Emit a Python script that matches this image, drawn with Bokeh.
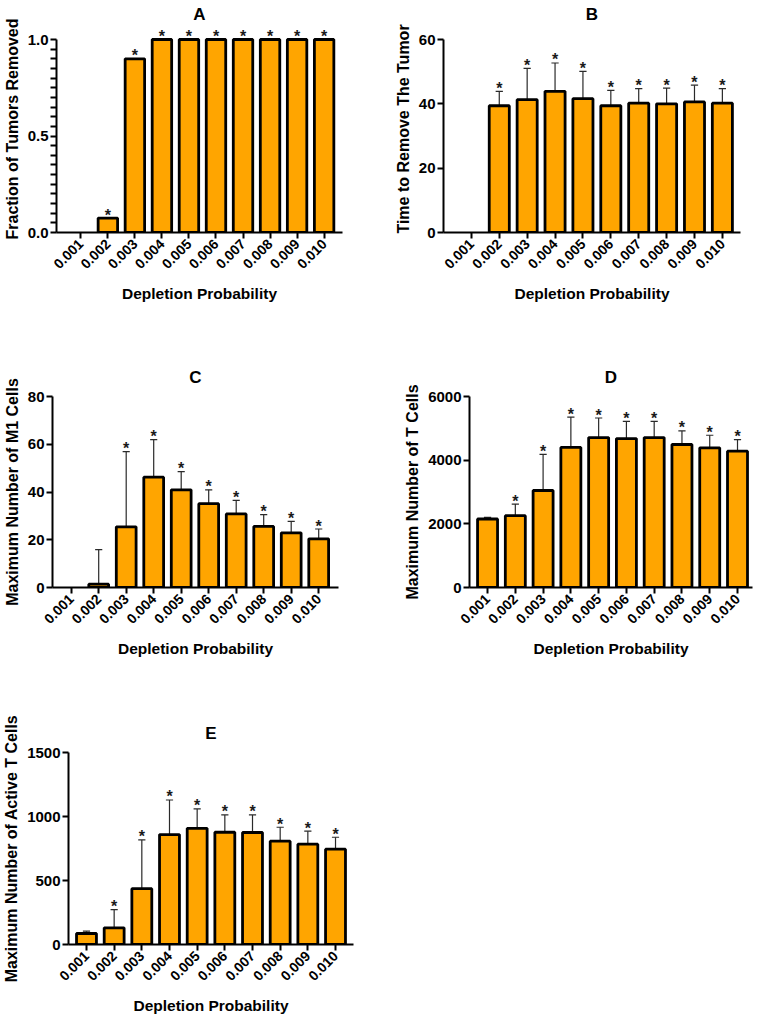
import math
from bokeh.plotting import figure
from bokeh.models import Range1d, FixedTicker
from bokeh.layouts import column, row
from bokeh.embed import file_html
from bokeh.resources import INLINE
from bokeh.core.properties import value

FONT = "Liberation Sans"

probs = ["0.001", "0.002", "0.003", "0.004", "0.005",
         "0.006", "0.007", "0.008", "0.009", "0.010"]

# Panel A: fraction of tumors removed
frac_mean = [0, 0.075, 0.9, 1.0, 1.0, 1.0, 1.0, 1.0, 1.0, 1.0]
frac_sd = [0, 0, 0, 0, 0, 0, 0, 0, 0, 0]
frac_star = [0, 1, 1, 1, 1, 1, 1, 1, 1, 1]

# Panel B: time to remove the tumor
time_mean = [0, 39.4, 41.3, 43.9, 41.6, 39.4, 40.2, 40.0, 40.6, 40.2]
time_sd = [0, 4.5, 9.7, 8.8, 8.5, 4.8, 4.5, 4.9, 5.2, 4.5]
time_star = [0, 1, 1, 1, 1, 1, 1, 1, 1, 1]

# Panel C: maximum number of M1 cells
m1_mean = [0, 1.4, 25.4, 46.2, 40.9, 35.1, 30.8, 25.6, 22.9, 20.4]
m1_sd = [0, 14.5, 31.5, 15.7, 7.6, 5.8, 5.7, 4.9, 4.8, 4.1]
m1_star = [0, 0, 1, 1, 1, 1, 1, 1, 1, 1]

# Panel D: maximum number of T cells
t_mean = [2152, 2256, 3047, 4399, 4711, 4679, 4711, 4492, 4388, 4284]
t_sd = [52, 364, 1133, 956, 613, 541, 509, 426, 395, 364]
t_star = [0, 1, 1, 1, 1, 1, 1, 1, 1, 1]

# Panel E: maximum number of active T cells
act_mean = [86, 130, 436, 859, 908, 877, 875, 807, 784, 745]
act_sd = [18, 142, 381, 270, 151, 135, 137, 109, 101, 93]
act_star = [0, 1, 1, 1, 1, 1, 1, 1, 1, 1]

ticks_A = [0, 0.5, 1.0]
labels_A = ["0.0", "0.5", "1.0"]
ticks_B = [0, 20, 40, 60]
labels_B = ["0", "20", "40", "60"]
ticks_C = [0, 20, 40, 60, 80]
labels_C = ["0", "20", "40", "60", "80"]
ticks_D = [0, 2000, 4000, 6000]
labels_D = ["0", "2000", "4000", "6000"]
ticks_E = [0, 500, 1000, 1500]
labels_E = ["0", "500", "1000", "1500"]

XLABEL = "Depletion Probability"
BAR_FILL = "#FFA500"


def panel(title, ylabel, means, sds, stars, yticks, ylabels, W, H, left, right,
          top_px, tick_top_px, zero_px, lp, rp, title_standoff, minor=0):
    ymax = yticks[-1]
    per_px = ymax / (zero_px - tick_top_px)
    y_end = ymax + (tick_top_px - top_px) * per_px
    p = figure(width=W, height=H, x_range=Range1d(1 - lp, 10 + rp),
               y_range=Range1d(0, y_end), output_backend="svg",
               toolbar_location=None, min_border_left=left,
               min_border_right=right, min_border_top=top_px,
               min_border_bottom=H - zero_px, title=title)
    p.outline_line_color = None
    p.grid.visible = False
    p.background_fill_color = "white"
    p.border_fill_color = "white"

    p.title.align = "center"
    p.title.text_font = FONT
    p.title.text_font_size = "17px"
    p.title.text_font_style = "bold"
    p.title.text_color = "black"
    p.title.standoff = title_standoff

    xs = list(range(1, 11))
    # error bars (upper only)
    ex, ey0, ey1 = [], [], []
    for x, m, s in zip(xs, means, sds):
        if s > 0:
            ex.append(x)
            ey0.append(m)
            ey1.append(m + s)
    if ex:
        p.segment(x0=ex, y0=ey0, x1=ex, y1=ey1, line_color="#2a2a2a", line_width=1.2)
        p.segment(x0=[x - 0.13 for x in ex], y0=ey1, x1=[x + 0.13 for x in ex],
                  y1=ey1, line_color="#2a2a2a", line_width=1.2)
    bx = [x for x, m in zip(xs, means) if m > 0]
    bt = [m for m in means if m > 0]
    p.vbar(x=bx, top=bt, width=0.72, bottom=0, fill_color=BAR_FILL,
           line_color="black", line_width=2.8)

    sx = [x for x, st in zip(xs, stars) if st]
    sy = [m + s for m, s, st in zip(means, sds, stars) if st]
    p.text(x=sx, y=sy, text=["*"] * len(sx), text_font=value(FONT),
           text_font_style="bold", text_font_size="16px", text_align="center",
           text_baseline="alphabetic", y_offset=-3, text_color="#1a1a1a")

    # axes
    for ax in (p.xaxis[0], p.yaxis[0]):
        ax.axis_line_width = 2
        ax.axis_line_color = "black"
        ax.major_tick_line_width = 2
        ax.major_tick_line_color = "black"
        ax.major_tick_in = 0
        ax.major_tick_out = 6
        ax.minor_tick_line_color = None
        ax.major_label_text_font = FONT
        ax.major_label_text_font_style = "bold"
        ax.major_label_text_color = "black"
        ax.axis_label_text_font = FONT
        ax.axis_label_text_font_style = "bold"
        ax.axis_label_text_color = "black"

    xa = p.xaxis[0]
    xa.ticker = FixedTicker(ticks=xs)
    xa.major_label_overrides = {x: lab for x, lab in zip(xs, probs)}
    xa.major_label_orientation = math.pi / 4
    xa.major_label_text_font_size = "14px"
    xa.major_label_standoff = 3
    xa.axis_label = XLABEL
    xa.axis_label_text_font_size = "15.5px"
    xa.axis_label_standoff = 9

    ya = p.yaxis[0]
    if minor:
        # comb of short ticks; only the main ones carry labels
        step = (yticks[1] - yticks[0]) / minor
        n = int(round(ymax / step))
        all_ticks = [round(i * step, 10) for i in range(n + 1)]
        lab_map = {round(t, 10): lab for t, lab in zip(yticks, ylabels)}
        ya.ticker = FixedTicker(ticks=all_ticks)
        ya.major_label_overrides = {t: lab_map.get(t, "") for t in all_ticks}
        ya.major_tick_out = 6
    else:
        ya.ticker = FixedTicker(ticks=yticks)
        ya.major_label_overrides = {t: lab for t, lab in zip(yticks, ylabels)}
    ya.major_label_text_font_size = "15px"
    ya.major_label_standoff = 2
    ya.bounds = (0, ymax)
    ya.axis_label = ylabel
    ya.axis_label_text_font_size = "16px"
    ya.axis_label_standoff = 4
    return p


pA = panel("A", "Fraction of Tumors Removed", frac_mean, frac_sd, frac_star,
           ticks_A, labels_A, 380, 320, 47, 38, 25, 39, 232, 0.9, 0.68, 4, minor=10)
pB = panel("B", "Time to Remove The Tumor", time_mean, time_sd, time_star,
           ticks_B, labels_B, 378, 320, 63, 18, 25, 39, 232, 1.0, 0.65, 4)
pC = panel("C", "Maximum Number of M1 Cells", m1_mean, m1_sd, m1_star,
           ticks_C, labels_C, 380, 340, 49, 42, 76, 76, 268, 0.68, 0.72, 20)
pD = panel("D", "Maximum Number of T Cells", t_mean, t_sd, t_star,
           ticks_D, labels_D, 378, 340, 89, 6, 76, 76, 268, 0.65, 0.54, 20)
pE = panel("E", "Maximum Number of Active T Cells", act_mean, act_sd, act_star,
           ticks_E, labels_E, 380, 358, 66, 27, 92, 92, 284, 0.65, 0.65, 19)

layout = column(row(pA, pB), row(pC, pD), pE)
open("out.html", "w").write(file_html(layout, INLINE))
